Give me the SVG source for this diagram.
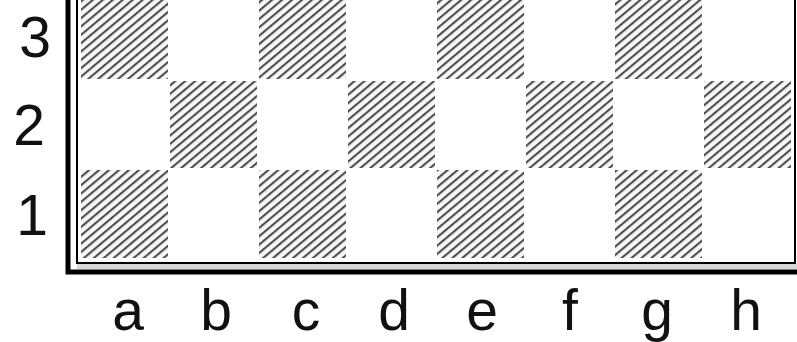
<svg xmlns="http://www.w3.org/2000/svg" width="797" height="342" viewBox="0 0 797 342">
  <defs>
    <pattern id="hatch" width="6.4" height="6.4" patternUnits="userSpaceOnUse" patternTransform="rotate(50)">
      <rect width="6.4" height="6.4" fill="#f7f7f7"/>
      <line x1="2" y1="0" x2="2" y2="6.4" stroke="#444" stroke-width="2"/>
    </pattern>
  </defs>
  <style>
    .dark { fill: url(#hatch); }
    .lbl { font-family: "Liberation Sans", Arial, sans-serif; font-size: 57px; fill: #111; text-anchor: middle; }
    .thick { stroke: #000; stroke-width: 5; fill: none; }
    .thin { stroke: #000; stroke-width: 2; fill: none; }
  </style>
  <rect width="797" height="342" fill="#fff"/>
  <g id="board">
    <!-- row 3 -->
    <rect class="dark" x="81" y="-9" width="87" height="88"/>
    <rect class="dark" x="259" y="-9" width="87" height="88"/>
    <rect class="dark" x="437" y="-9" width="87" height="88"/>
    <rect class="dark" x="615" y="-9" width="87" height="88"/>
    <!-- row 2 -->
    <rect class="dark" x="170" y="81" width="87" height="87"/>
    <rect class="dark" x="348" y="81" width="87" height="87"/>
    <rect class="dark" x="526" y="81" width="87" height="87"/>
    <rect class="dark" x="704" y="81" width="87" height="87"/>
    <!-- row 1 -->
    <rect class="dark" x="81" y="170" width="87" height="88"/>
    <rect class="dark" x="259" y="170" width="87" height="88"/>
    <rect class="dark" x="437" y="170" width="87" height="88"/>
    <rect class="dark" x="615" y="170" width="87" height="88"/>
  </g>
  <g id="frame">
    <rect x="77" y="264" width="720" height="5" fill="#d8d8d8"/>
    <polyline class="thin" points="77,0 77,263 795,263 795,0"/>
    <polyline class="thick" points="68,0 68,272 797,272"/>
  </g>
  <g id="ranks">
    <text class="lbl" x="35" y="57">3</text>
    <text class="lbl" x="29" y="145">2</text>
    <text class="lbl" x="32" y="235">1</text>
  </g>
  <g id="files">
    <text class="lbl" x="128" y="330">a</text>
    <text class="lbl" x="216" y="330">b</text>
    <text class="lbl" x="306" y="330">c</text>
    <text class="lbl" x="394" y="330">d</text>
    <text class="lbl" x="482" y="330">e</text>
    <text class="lbl" x="570" y="330">f</text>
    <text class="lbl" x="657" y="330">g</text>
    <text class="lbl" x="746" y="330">h</text>
  </g>
</svg>
